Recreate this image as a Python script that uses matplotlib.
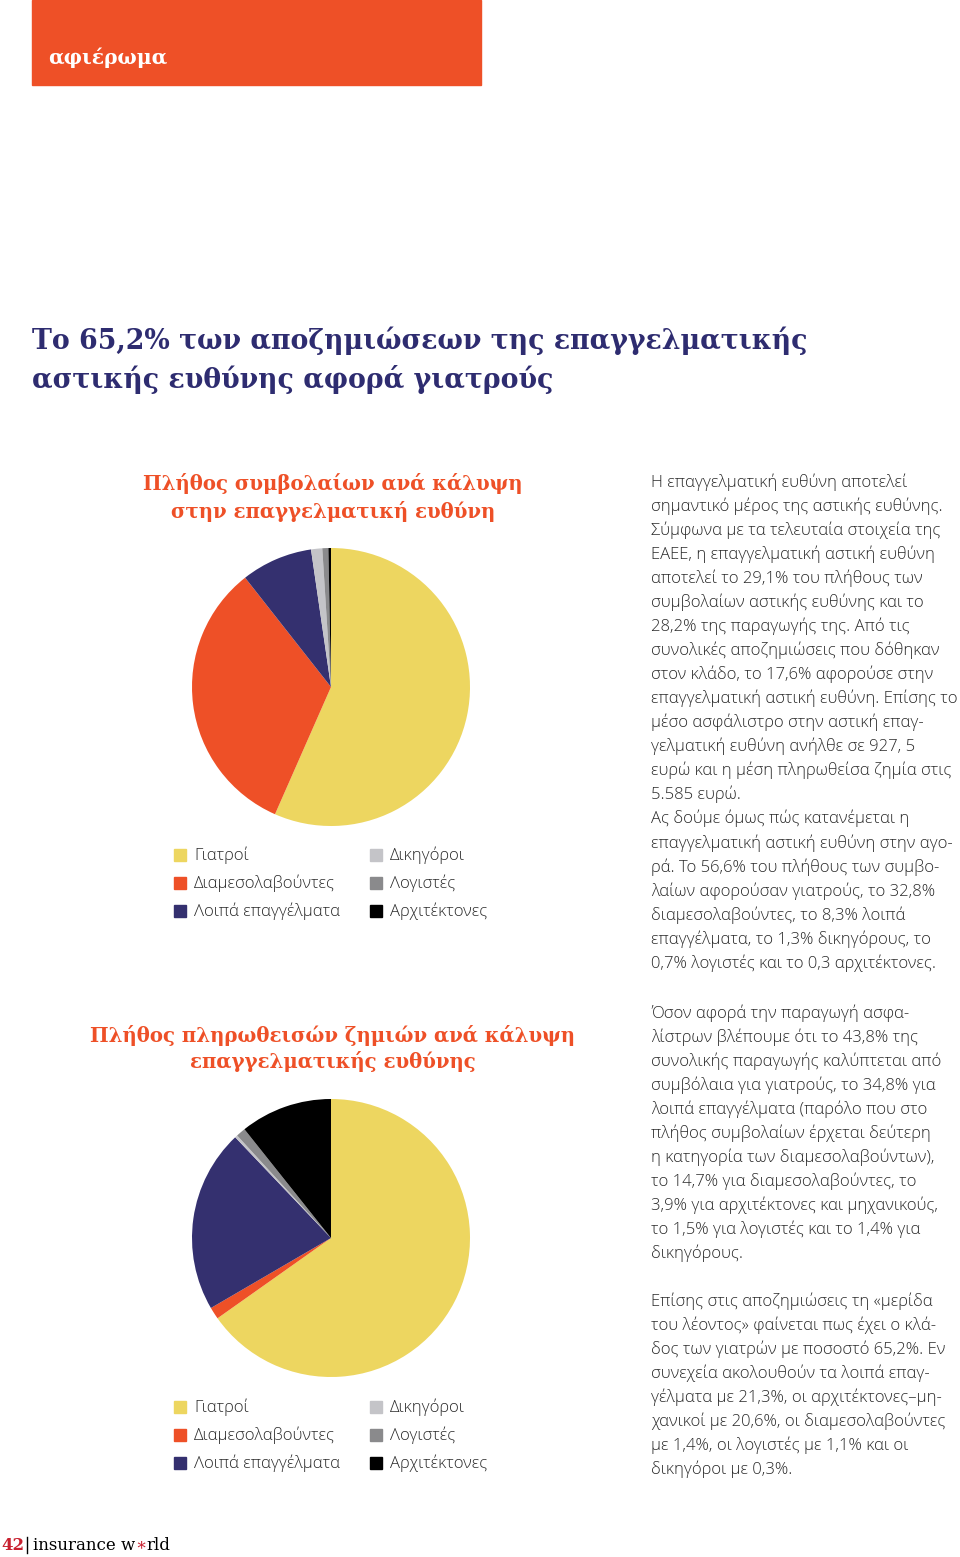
import matplotlib
matplotlib.use("Agg")
import matplotlib.pyplot as plt
from matplotlib.patches import Rectangle

W, H = 960, 1557

# data
labels = ["Γιατροί", "Διαμεσολαβούντες", "Λοιπά επαγγέλματα",
          "Δικηγόροι", "Λογιστές", "Αρχιτέκτονες"]
colors = ["#EDD660", "#EE5027", "#34306F", "#C4C4C8", "#8A8A8C", "#000000"]
contracts = [56.6, 32.8, 8.3, 1.3, 0.7, 0.3]
claims = [65.2, 1.4, 21.3, 0.3, 1.1, 10.7]

title_lines = ["Το 65,2% των αποζημιώσεων της επαγγελματικής",
               "αστικής ευθύνης αφορά γιατρούς"]
sub1 = ["Πλήθος συμβολαίων ανά κάλυψη", "στην επαγγελματική ευθύνη"]
sub2 = ["Πλήθος πληρωθεισών ζημιών ανά κάλυψη", "επαγγελματικής ευθύνης"]

para1 = ["Η επαγγελματική ευθύνη αποτελεί",
         "σημαντικό μέρος της αστικής ευθύνης.",
         "Σύμφωνα με τα τελευταία στοιχεία της",
         "ΕΑΕΕ, η επαγγελματική αστική ευθύνη",
         "αποτελεί το 29,1% του πλήθους των",
         "συμβολαίων αστικής ευθύνης και το",
         "28,2% της παραγωγής της. Από τις",
         "συνολικές αποζημιώσεις που δόθηκαν",
         "στον κλάδο, το 17,6% αφορούσε στην",
         "επαγγελματική αστική ευθύνη. Επίσης το",
         "μέσο ασφάλιστρο στην αστική επαγ-",
         "γελματική ευθύνη ανήλθε σε 927, 5",
         "ευρώ και η μέση πληρωθείσα ζημία στις",
         "5.585 ευρώ.",
         "Ας δούμε όμως πώς κατανέμεται η",
         "επαγγελματική αστική ευθύνη στην αγο-",
         "ρά. Το 56,6% του πλήθους των συμβο-",
         "λαίων αφορούσαν γιατρούς, το 32,8%",
         "διαμεσολαβούντες, το 8,3% λοιπά",
         "επαγγέλματα, το 1,3% δικηγόρους, το",
         "0,7% λογιστές και το 0,3 αρχιτέκτονες."]
para2 = ["Όσον αφορά την παραγωγή ασφα-",
         "λίστρων βλέπουμε ότι το 43,8% της",
         "συνολικής παραγωγής καλύπτεται από",
         "συμβόλαια για γιατρούς, το 34,8% για",
         "λοιπά επαγγέλματα (παρόλο που στο",
         "πλήθος συμβολαίων έρχεται δεύτερη",
         "η κατηγορία των διαμεσολαβούντων),",
         "το 14,7% για διαμεσολαβούντες, το",
         "3,9% για αρχιτέκτονες και μηχανικούς,",
         "το 1,5% για λογιστές και το 1,4% για",
         "δικηγόρους."]
para3 = ["Επίσης στις αποζημιώσεις τη «μερίδα",
         "του λέοντος» φαίνεται πως έχει ο κλά-",
         "δος των γιατρών με ποσοστό 65,2%. Εν",
         "συνεχεία ακολουθούν τα λοιπά επαγ-",
         "γέλματα με 21,3%, οι αρχιτέκτονες–μη-",
         "χανικοί με 20,6%, οι διαμεσολαβούντες",
         "με 1,4%, οι λογιστές με 1,1% και οι",
         "δικηγόροι με 0,3%."]

NAVY = "#2E2C70"
ORANGE = "#EE5027"
SLAB = ["DejaVu Serif", "Liberation Serif"]
BODY = ["Open Sans", "DejaVu Sans"]

fig = plt.figure(figsize=(W / 100, H / 100), dpi=100)
fig.patch.set_facecolor("white")


def fx(x):
    return x / W


def fy(y):
    return 1 - y / H


def txt(x, y, s, **kw):
    return fig.text(fx(x), fy(y), s, **kw)


# header band
fig.patches.append(Rectangle((fx(32), fy(85)), fx(449), 85 / H,
                             transform=fig.transFigure, color=ORANGE))
txt(48, 58, "αφιέρωμα", color="white", fontsize=14.6, fontweight="bold",
    family=SLAB, va="center")

# main title
for i, line in enumerate(title_lines):
    txt(32, 341 + 38 * i, line, color=NAVY, fontsize=19.3, fontweight="bold",
        family=SLAB, va="center")

# subtitles
for i, line in enumerate(sub1):
    txt(333, 484 + 27 * i, line, color=ORANGE, fontsize=14.2, fontweight="bold",
        family=SLAB, va="center", ha="center")
for i, line in enumerate(sub2):
    txt(333, 1035 + 27 * i, line, color=ORANGE, fontsize=14.2, fontweight="bold",
        family=SLAB, va="center", ha="center")


def draw_pie(vals, cy):
    r = 139
    ax = fig.add_axes([fx(331 - r), fy(cy + r), 2 * r / W, 2 * r / H])
    ax.pie(vals, colors=colors, startangle=90, counterclock=False,
           wedgeprops=dict(linewidth=0))
    ax.set_xlim(-1.0, 1.0)
    ax.set_ylim(-1.0, 1.0)
    ax.set_aspect("equal")
    ax.axis("off")


def draw_legend(y0):
    for i, (lab, c) in enumerate(zip(labels, colors)):
        col, row = divmod(i, 3)
        sx = 174 + 196 * col
        y = y0 + 28 * row
        fig.patches.append(Rectangle((fx(sx), fy(y + 6)), 12 / W, 12 / H,
                                     transform=fig.transFigure, color=c))
        txt(sx + 20, y, lab, color="#2a2a2a", fontsize=12, family=BODY,
            fontweight="light", va="center")


draw_pie(contracts, 687)
draw_legend(855)
draw_pie(claims, 1238)
draw_legend(1407)

# body text
for start, para in [(482, para1), (1013, para2), (1301, para3)]:
    for i, line in enumerate(para):
        txt(651, start + 24.05 * i, line, color="#2a2a2a", fontsize=12,
            family=BODY, fontweight="light", va="center")

# footer
txt(1, 1545, "42", color="#C8202F", fontsize=12, fontweight="bold",
    family=SLAB, va="center")
fig.add_artist(plt.Line2D([fx(27), fx(27)], [fy(1553), fy(1537)],
                          transform=fig.transFigure, color="black", lw=1))
r = fig.canvas.get_renderer()
t1 = txt(33, 1545, "insurance w", color="black", fontsize=12, family=SLAB,
         va="center")
x1 = t1.get_window_extent(r).x1
t2 = fig.text(x1 / W, fy(1545), "∗", color="#C8202F", fontsize=12,
              family=SLAB, va="center")
x2 = t2.get_window_extent(r).x1
fig.text(x2 / W, fy(1545), "rld", color="black", fontsize=12, family=SLAB,
         va="center")

fig.savefig("out.png", dpi=100)
